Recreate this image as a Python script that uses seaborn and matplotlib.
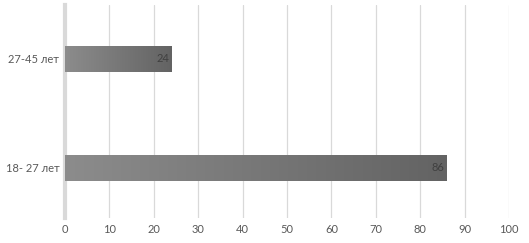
import matplotlib
matplotlib.use("Agg")
import matplotlib.pyplot as plt
import seaborn as sns
import numpy as np
import pandas as pd
from matplotlib.colors import LinearSegmentedColormap

categories = ["27-45 лет", "18- 27 лет"]
values = [24, 86]
xticks = [0, 10, 20, 30, 40, 50, 60, 70, 80, 90, 100]

sns.set_theme(style="white")
plt.rcParams['font.family'] = ['Lato', 'DejaVu Sans']

df = pd.DataFrame({"cat": categories, "val": values})

fig = plt.figure(figsize=(5.29, 2.43), dpi=100)
ax = fig.add_axes([65/529, 1-218/243, (509-65)/529, (218-5)/243])

sns.barplot(data=df, x="val", y="cat", ax=ax, color="#777777", width=0.24,
            orient="h", zorder=3, saturation=1, linewidth=0)

ax.set_xlim(0, 100)
ax.set_xticks(xticks)
ax.set_xticklabels([str(t) for t in xticks])
ax.grid(axis="x", color="#d9d9d9", linewidth=0.9, zorder=0)
ax.grid(axis="y", visible=False)
for s in ["top", "right", "bottom"]:
    ax.spines[s].set_visible(False)
ax.spines["left"].set_color("#d9d9d9")
ax.spines["left"].set_linewidth(3)
ax.spines["left"].set_zorder(2)
ax.set_xlabel("")
ax.set_ylabel("")
ax.tick_params(axis="both", length=0, labelsize=8, colors="#595959", pad=4)

cmap = LinearSegmentedColormap.from_list("g", ["#8c8c8c", "#636363"])
grad = np.linspace(0, 1, 256).reshape(1, -1)
for p in list(ax.patches):
    x0, y0 = p.get_x(), p.get_y()
    w, h = p.get_width(), p.get_height()
    im = ax.imshow(grad, cmap=cmap, aspect="auto", extent=[x0, x0 + w, y0 + h, y0],
                   zorder=3.5, interpolation="bicubic")
    im.set_clip_path(p)
    ax.text(x0 + w - 0.6, y0 + h / 2, f"{int(round(w))}", ha="right", va="center",
            fontsize=8, color="#404040", zorder=5)

ax.set_ylim(1.459, -0.495)
ax.set_xlim(0, 100)
fig.savefig("out.png", dpi=100)
